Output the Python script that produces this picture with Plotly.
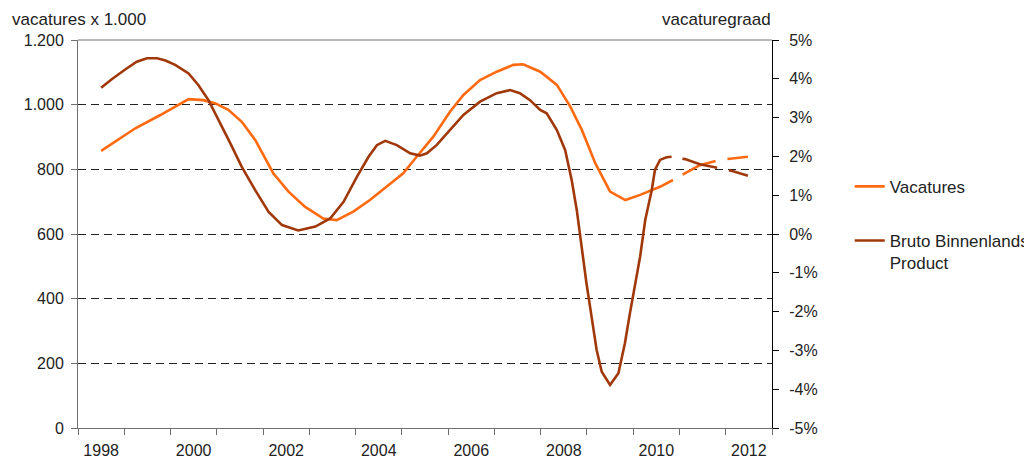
import plotly.graph_objects as go

# ---- data ----
vac_years = [1998.50, 1999.24, 1999.78, 2000.10, 2000.39, 2000.71, 2000.97, 2001.25, 2001.54, 2001.83,
             2002.22, 2002.55, 2002.91, 2003.13, 2003.30, 2003.59, 2003.95, 2004.31, 2004.67, 2005.03,
             2005.32, 2005.68, 2006.04, 2006.33, 2006.69, 2007.05, 2007.41, 2007.62, 2007.99, 2008.35,
             2008.64, 2008.89, 2009.18, 2009.50, 2009.83, 2010.15, 2010.58, 2010.86]
vac_values = [857, 927, 968, 994, 1017, 1014, 1004, 984, 947, 891,
              788, 731, 684, 664, 648, 643, 669, 705, 746, 788,
              839, 901, 978, 1030, 1076, 1102, 1123, 1125, 1102, 1061,
              994, 922, 819, 731, 705, 721, 746, 767]
vac_fc_years = [2010.86, 2011.12, 2011.44, 2011.87, 2012.48]
vac_fc_values = [767, 788, 813, 829, 839]

bbp_years = [1998.50, 1998.73, 1999.02, 1999.27, 1999.49, 1999.71, 1999.89, 2000.10, 2000.39, 2000.60,
             2000.82, 2001.04, 2001.29, 2001.54, 2001.83, 2002.12, 2002.41, 2002.76, 2003.13, 2003.45,
             2003.74, 2004.03, 2004.28, 2004.46, 2004.64, 2004.89, 2005.18, 2005.39, 2005.54, 2005.75,
             2006.04, 2006.33, 2006.69, 2007.05, 2007.34, 2007.55, 2007.77, 2007.99, 2008.13, 2008.35,
             2008.53, 2008.67, 2008.78, 2008.85, 2008.99, 2009.10, 2009.21, 2009.32, 2009.50, 2009.68,
             2009.82, 2009.93, 2010.04, 2010.15, 2010.26, 2010.40, 2010.47, 2010.58, 2010.72, 2010.83]
bbp_values = [3.77, 3.99, 4.24, 4.44, 4.53, 4.53, 4.47, 4.36, 4.14, 3.84,
              3.45, 2.94, 2.34, 1.73, 1.13, 0.57, 0.23, 0.09, 0.19, 0.40,
              0.83, 1.48, 1.99, 2.29, 2.40, 2.29, 2.08, 2.02, 2.08, 2.29,
              2.68, 3.07, 3.41, 3.63, 3.71, 3.63, 3.45, 3.20, 3.11, 2.68,
              2.16, 1.39, 0.62, -0.05, -1.27, -2.13, -2.99, -3.55, -3.89, -3.59,
              -2.82, -2.04, -1.36, -0.58, 0.36, 1.13, 1.65, 1.91, 1.98, 1.99]
bbp_fc_years = [2010.83, 2011.12, 2011.44, 2011.87, 2012.16, 2012.48]
bbp_fc_values = [1.99, 1.93, 1.80, 1.69, 1.62, 1.50]

year_labels = ["1998", "2000", "2002", "2004", "2006", "2008", "2010", "2012"]
left_ticks = [0, 200, 400, 600, 800, 1000, 1200]
left_labels = ["0", "200", "400", "600", "800", "1.000", "1.200"]
right_ticks = [-5, -4, -3, -2, -1, 0, 1, 2, 3, 4, 5]
right_labels = ["-5%", "-4%", "-3%", "-2%", "-1%", "0%", "1%", "2%", "3%", "4%", "5%"]

ORANGE = "#FF6A10"
BROWN = "#A0380A"
FONT = "Liberation Sans, Arial, sans-serif"
DASH = "0px,11px,36px,12px,40px,10px"

fig = go.Figure()
fig.add_trace(go.Scatter(x=vac_years, y=vac_values, mode="lines", name="Vacatures",
                         line=dict(color=ORANGE, width=2.6), legendgroup="a", yaxis="y"))
fig.add_trace(go.Scatter(x=vac_fc_years, y=vac_fc_values, mode="lines", showlegend=False,
                         line=dict(color=ORANGE, width=2.6, dash=DASH), yaxis="y"))
fig.add_trace(go.Scatter(x=bbp_years, y=bbp_values, mode="lines", name="Bruto Binnenlands<br>Product",
                         line=dict(color=BROWN, width=2.6), legendgroup="b", yaxis="y2"))
fig.add_trace(go.Scatter(x=bbp_fc_years, y=bbp_fc_values, mode="lines", showlegend=False,
                         line=dict(color=BROWN, width=2.6, dash=DASH), yaxis="y2"))

x_label_pos = [int(y) + 0.5 for y in year_labels]
minor_pos = list(range(1998, 2014))

fig.update_layout(
    width=1024, height=451,
    margin=dict(l=70, r=260, t=32, b=31, autoexpand=False),
    paper_bgcolor="white", plot_bgcolor="white",
    font=dict(family=FONT, size=16, color="#222222"),
    xaxis=dict(range=[1998, 2013], tickmode="array", tickvals=x_label_pos, ticktext=year_labels,
               ticks="", showgrid=False, zeroline=False, showline=True, linecolor="#707070",
               linewidth=1, ticklabelstandoff=8, automargin=False,
               minor=dict(ticks="outside", tickmode="array", tickvals=minor_pos, ticklen=6,
                          tickcolor="#707070", tickwidth=1, showgrid=False)),
    yaxis=dict(range=[0, 1200], tickmode="array", tickvals=left_ticks, ticktext=left_labels,
               ticks="outside", ticklen=6, tickcolor="#707070", showline=True, linecolor="#707070",
               linewidth=1, showgrid=True, gridcolor="#222222", griddash="8px,5px", gridwidth=1,
               zeroline=False, ticklabelstandoff=4, automargin=False),
    yaxis2=dict(range=[-5, 5], overlaying="y", side="right", tickmode="array", tickvals=right_ticks,
                ticktext=right_labels, ticks="outside", ticklen=6, tickcolor="#000000",
                showline=True, linecolor="#000000", linewidth=1, showgrid=False, zeroline=False,
                ticklabelstandoff=7, automargin=False),
    legend=dict(x=1.112, xanchor="left", y=0.668, yanchor="top", traceorder="grouped",
                tracegroupgap=29, valign="top", font=dict(family=FONT, size=17, color="#222222"),
                bgcolor="rgba(0,0,0,0)", itemwidth=30),
    shapes=[dict(type="line", xref="paper", yref="paper", x0=0, x1=1, y0=1, y1=1,
                 line=dict(color="#A0A0A0", width=1.5), layer="above")],
    annotations=[
        dict(text="vacatures x 1.000", xref="paper", yref="paper", x=-0.098, y=1.0825,
             xanchor="left", yanchor="top", showarrow=False,
             font=dict(family=FONT, size=17, color="#222222")),
        dict(text="vacaturegraad", xref="paper", yref="paper", x=0.8386, y=1.0825,
             xanchor="left", yanchor="top", showarrow=False,
             font=dict(family=FONT, size=17, color="#222222")),
    ],
)

fig.write_html("out.html")
